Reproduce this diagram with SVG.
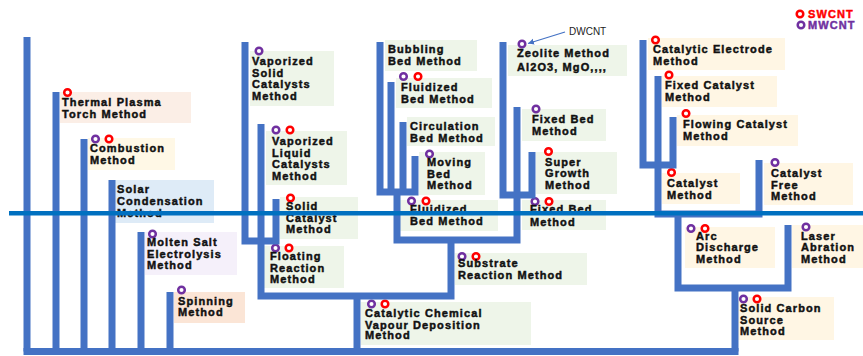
<svg xmlns="http://www.w3.org/2000/svg" width="863" height="356" viewBox="0 0 863 356">
<style>
.t{font-family:"Liberation Sans",Arial,sans-serif;font-weight:bold;font-size:11px;letter-spacing:1.1px;fill:#111;stroke:#111;stroke-width:0.45}
.cn{fill:none;stroke:#4472C4;stroke-width:7;stroke-linejoin:miter}
.sw{fill:#fff;stroke:#FF0000;stroke-width:2.5}
.mw{fill:#fff;stroke:#7030A0;stroke-width:2.5}
.g{fill:#EEF5E9}
.y{fill:#FFF6E4}
</style>
<defs>
<marker id="ah" markerWidth="8" markerHeight="8" refX="6" refY="3" orient="auto" markerUnits="userSpaceOnUse"><path d="M0,0 L6,3 L0,6 z" fill="#4472C4"/></marker>
</defs>
<rect width="863" height="356" fill="#fff"/>

<g id="legend">
<circle class="sw" cx="800" cy="14" r="3.3"/><text class="t" x="808" y="18" style="fill:#FF0000;stroke:#FF0000">SWCNT</text>
<circle class="mw" cx="801" cy="25" r="3.3"/><text class="t" x="808" y="29" style="fill:#7030A0;stroke:#7030A0">MWCNT</text>
</g>

<g id="thermal"><rect x="60" y="92" width="131" height="31" fill="#FBEEE6"/><circle class="sw" cx="67.5" cy="92.5" r="3.3"/><text class="t" x="62" y="106">Thermal Plasma</text><text class="t" x="62" y="117.5">Torch Method</text></g>
<g id="combustion"><rect x="88" y="138" width="87" height="32" fill="#FFF8E6"/><circle class="mw" cx="95.5" cy="139" r="3.3"/><circle class="sw" cx="109" cy="139" r="3.3"/><text class="t" x="90" y="152">Combustion</text><text class="t" x="90" y="163.5">Method</text></g>
<g id="solar"><rect x="115" y="180" width="99" height="43" fill="#DEEBF7"/><text class="t" x="117" y="193">Solar</text><text class="t" x="117" y="205">Condensation</text><text class="t" x="117" y="217">Method</text></g>
<g id="molten"><rect x="145" y="232" width="92" height="43" fill="#F5F0FA"/><circle class="mw" cx="152.5" cy="234" r="3.3"/><text class="t" x="147" y="246">Molten Salt</text><text class="t" x="147" y="257.5">Electrolysis</text><text class="t" x="147" y="269">Method</text></g>
<g id="spinning"><rect x="174" y="292" width="71" height="31" fill="#FBE5D6"/><circle class="mw" cx="181.5" cy="290" r="3.3"/><text class="t" x="178" y="305">Spinning</text><text class="t" x="178" y="316">Method</text></g>

<g id="vapsolid"><rect class="g" x="250" y="51" width="84" height="55"/><circle class="mw" cx="259" cy="51" r="3.3"/><text class="t" x="252" y="65">Vaporized</text><text class="t" x="252" y="76.5">Solid</text><text class="t" x="252" y="88">Catalysts</text><text class="t" x="252" y="99.5">Method</text></g>
<g id="vapliquid"><rect class="g" x="266" y="131" width="81" height="54"/><circle class="mw" cx="276" cy="130" r="3.3"/><circle class="sw" cx="290" cy="130" r="3.3"/><text class="t" x="272" y="145">Vaporized</text><text class="t" x="272" y="156.5">Liquid</text><text class="t" x="272" y="168">Catalysts</text><text class="t" x="272" y="179.5">Method</text></g>
<g id="solidcat"><rect class="g" x="280" y="197" width="78" height="42"/><circle class="sw" cx="290.5" cy="198" r="3.3"/><text class="t" x="286" y="209.5">Solid</text><text class="t" x="286" y="221.5">Catalyst</text><text class="t" x="286" y="233">Method</text></g>
<g id="floating"><rect class="g" x="264" y="246" width="80" height="42"/><circle class="mw" cx="275.5" cy="248" r="3.3"/><circle class="sw" cx="289" cy="248" r="3.3"/><text class="t" x="270" y="260">Floating</text><text class="t" x="270" y="271.5">Reaction</text><text class="t" x="270" y="283">Method</text></g>
<g id="cvd"><rect class="g" x="361" y="302" width="170" height="43"/><circle class="mw" cx="371.5" cy="304" r="3.3"/><circle class="sw" cx="385" cy="304" r="3.3"/><text class="t" x="365" y="317">Catalytic Chemical</text><text class="t" x="365" y="328.5">Vapour Deposition</text><text class="t" x="365" y="339">Method</text></g>

<g id="bubbling"><rect class="g" x="385" y="40" width="92" height="31"/><text class="t" x="388" y="53">Bubbling</text><text class="t" x="388" y="65">Bed Method</text></g>
<g id="fluidized1"><rect class="g" x="396" y="78" width="96" height="30"/><circle class="mw" cx="403.5" cy="76.5" r="3.3"/><circle class="sw" cx="418" cy="76.5" r="3.3"/><text class="t" x="401" y="91">Fluidized</text><text class="t" x="401" y="103">Bed Method</text></g>
<g id="circulation"><rect class="g" x="407" y="117" width="88" height="29"/><text class="t" x="410" y="130">Circulation</text><text class="t" x="410" y="142">Bed Method</text></g>
<g id="moving"><rect class="g" x="419" y="152" width="66" height="43"/><circle class="mw" cx="429.5" cy="154" r="3.3"/><text class="t" x="427" y="166">Moving</text><text class="t" x="427" y="178">Bed</text><text class="t" x="427" y="189">Method</text></g>
<g id="fluidized2"><rect class="g" x="400" y="200" width="98" height="31"/><circle class="mw" cx="411.5" cy="201" r="3.3"/><circle class="sw" cx="426" cy="201" r="3.3"/><text class="t" x="410" y="213">Fluidized</text><text class="t" x="410" y="225">Bed Method</text></g>
<g id="substrate"><rect class="g" x="455" y="253" width="132" height="32"/><circle class="mw" cx="462" cy="256.5" r="3.3"/><circle class="sw" cx="476" cy="256.5" r="3.3"/><text class="t" x="458" y="267">Substrate</text><text class="t" x="458" y="279">Reaction Method</text></g>
<g id="zeolite"><rect class="g" x="508" y="45" width="119" height="31"/><circle class="mw" cx="522" cy="44" r="3.3"/><text class="t" x="517" y="57">Zeolite Method</text><text class="t" x="517" y="70.5">Al2O3, MgO,,,,</text></g>
<g id="dwcnt"><text x="569" y="35" style="font-family:'Liberation Sans',Arial,sans-serif;font-size:10px;fill:#222">DWCNT</text><line x1="565" y1="32" x2="528" y2="43.5" stroke="#4472C4" stroke-width="1.2" marker-end="url(#ah)"/></g>
<g id="fixedbed1"><rect class="g" x="522" y="109" width="84" height="32"/><circle class="mw" cx="536" cy="109" r="3.3"/><text class="t" x="532" y="123">Fixed Bed</text><text class="t" x="532" y="134.5">Method</text></g>
<g id="supergrowth"><rect class="g" x="536" y="152" width="81" height="42"/><circle class="sw" cx="548.5" cy="151.5" r="3.3"/><text class="t" x="545" y="166">Super</text><text class="t" x="545" y="177">Growth</text><text class="t" x="545" y="188.5">Method</text></g>
<g id="fixedbed2"><rect class="g" x="522" y="200" width="84" height="30"/><circle class="mw" cx="535" cy="201.5" r="3.3"/><circle class="sw" cx="549" cy="201.5" r="3.3"/><text class="t" x="530" y="213">Fixed Bed</text><text class="t" x="530" y="226">Method</text></g>

<g id="catelectrode"><rect class="y" x="648" y="38" width="137" height="32"/><circle class="sw" cx="655.5" cy="40" r="3.3"/><text class="t" x="653" y="53">Catalytic Electrode</text><text class="t" x="653" y="64.5">Method</text></g>
<g id="fixedcat"><rect class="y" x="662" y="76" width="115" height="31"/><circle class="sw" cx="669" cy="75" r="3.3"/><text class="t" x="665" y="89">Fixed Catalyst</text><text class="t" x="665" y="101">Method</text></g>
<g id="flowing"><rect class="y" x="677" y="115" width="121" height="31"/><circle class="sw" cx="686" cy="113.5" r="3.3"/><text class="t" x="683" y="128">Flowing Catalyst</text><text class="t" x="683" y="139.5">Method</text></g>
<g id="catalyst"><rect class="y" x="662" y="173" width="78" height="31"/><circle class="sw" cx="671.5" cy="172.5" r="3.3"/><text class="t" x="667" y="187">Catalyst</text><text class="t" x="667" y="198.5">Method</text></g>
<g id="catfree"><rect class="y" x="764" y="163" width="89" height="42"/><circle class="mw" cx="775" cy="162.5" r="3.3"/><text class="t" x="771" y="177">Catalyst</text><text class="t" x="771" y="188.5">Free</text><text class="t" x="771" y="199.5">Method</text></g>
<g id="arc"><rect class="y" x="685" y="227" width="90" height="41"/><circle class="mw" cx="691" cy="228.5" r="3.3"/><circle class="sw" cx="705" cy="228.5" r="3.3"/><text class="t" x="696" y="239.5">Arc</text><text class="t" x="696" y="251">Discharge</text><text class="t" x="696" y="263">Method</text></g>
<g id="laser"><rect class="y" x="792" y="225" width="71" height="43"/><circle class="mw" cx="806" cy="227" r="3.3"/><text class="t" x="801" y="239.5">Laser</text><text class="t" x="801" y="251">Abration</text><text class="t" x="801" y="263">Method</text></g>
<g id="solidcarbon"><rect class="y" x="736" y="297" width="98" height="43"/><circle class="mw" cx="743.5" cy="299" r="3.3"/><circle class="sw" cx="757" cy="299" r="3.3"/><text class="t" x="740" y="312">Solid Carbon</text><text class="t" x="740" y="323.5">Source</text><text class="t" x="740" y="334.5">Method</text></g>

<g id="connectors">
<path class="cn" d="M23.5 351.5 H738.5"/>
<path class="cn" d="M27 37 V351.5 M56 92 V351.5 M84 139 V351.5 M112 180 V351.5 M141 232 V351.5 M170 292 V351.5"/>
<path class="cn" d="M245 42 V241 H276 V199"/>
<path class="cn" d="M261 124 V296 H451 V240"/>
<path class="cn" d="M357 296 V351.5"/>
<path class="cn" d="M380 42 V192 H415 V156 M391 82 V192 M403 122 V192"/>
<path class="cn" d="M397 192 V240 H517 V195"/>
<path class="cn" d="M503 42 V195 H532 V152 M517 107 V195"/>
<path class="cn" d="M643 40 V165 H673 V117 M658 76 V165"/>
<path class="cn" d="M658 165 V214 H759 V160"/>
<path class="cn" d="M678 214 V288 H788 V225"/>
<path class="cn" d="M735 288 V351.5"/>
</g>
<line id="divider" x1="9" y1="213.3" x2="863" y2="213.3" stroke="#0070C0" stroke-width="4.5"/>
</svg>
